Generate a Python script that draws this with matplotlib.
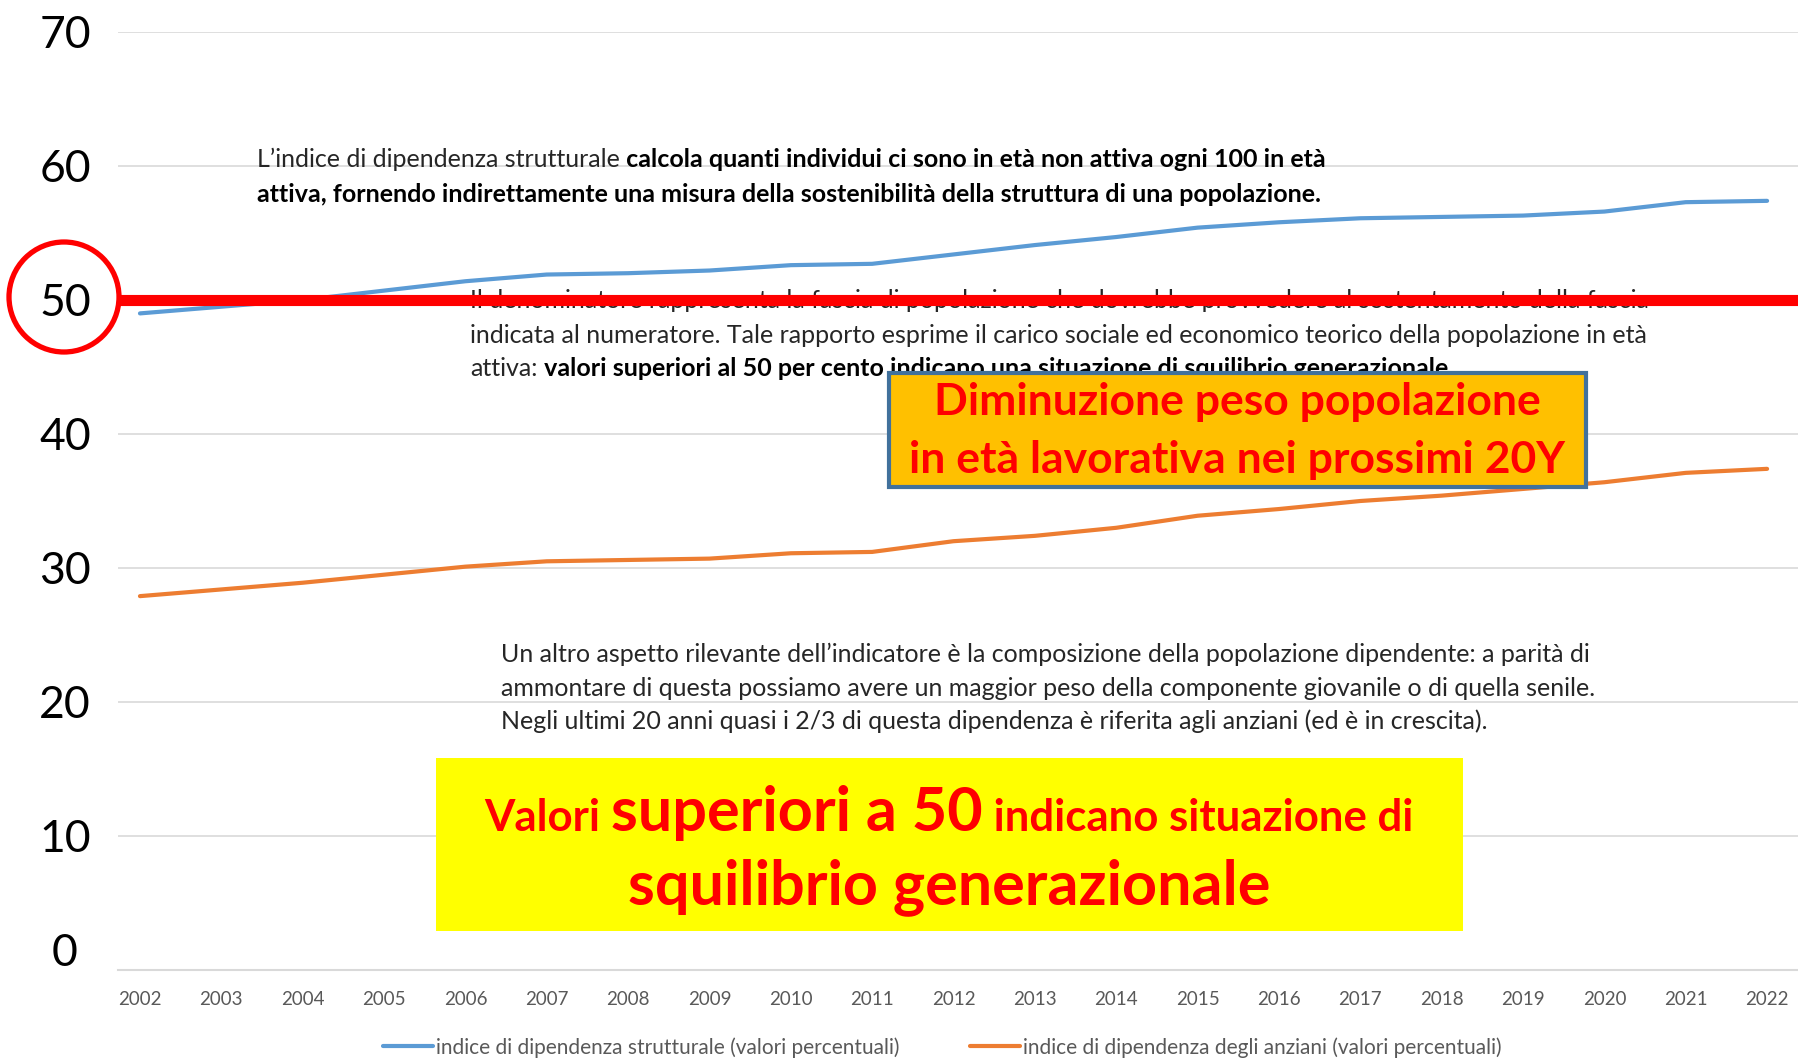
import matplotlib
matplotlib.use("Agg")
import matplotlib.pyplot as plt
from matplotlib.patches import Ellipse, Rectangle
from matplotlib.offsetbox import TextArea, HPacker, AnnotationBbox

plt.rcParams['font.family'] = ['Lato', 'DejaVu Sans']

# data
years = list(range(2002, 2023))
strutturale = [49.0, 49.5, 50.0, 50.7, 51.4, 51.9, 52.0, 52.2, 52.6, 52.7, 53.4,
               54.1, 54.7, 55.4, 55.8, 56.1, 56.2, 56.3, 56.6, 57.3, 57.4]
anziani = [27.9, 28.4, 28.9, 29.5, 30.1, 30.5, 30.6, 30.7, 31.1, 31.2, 32.0,
           32.4, 33.0, 33.9, 34.4, 35.0, 35.4, 35.9, 36.4, 37.1, 37.4]
y_ticks = [0, 10, 20, 30, 40, 50, 60, 70]
series_labels = ['indice di dipendenza strutturale (valori percentuali)',
                 'indice di dipendenza degli anziani (valori percentuali)']
threshold = 50

# note blocks: each line is a list of (text, bold)
note_top = [
    [('L’indice di dipendenza strutturale', False),
     (' calcola quanti individui ci sono in età non attiva ogni 100 in età', True)],
    [('attiva, fornendo indirettamente una misura della sostenibilità della struttura di una popolazione.', True)],
]
note_mid = [
    [('Il denominatore rappresenta la fascia di popolazione che dovrebbe provvedere al sostentamento della fascia', False)],
    [('indicata al numeratore. Tale rapporto esprime il carico sociale ed economico teorico della popolazione in età', False)],
    [('attiva:', False),
     (' valori superiori al 50 per cento indicano una situazione di squilibrio generazionale.', True)],
]
note_low = [
    [('Un altro aspetto rilevante dell’indicatore è la composizione della popolazione dipendente: a parità di', False)],
    [('ammontare di questa possiamo avere un maggior peso della componente giovanile o di quella senile.', False)],
    [('Negli ultimi 20 anni quasi i 2/3 di questa dipendenza è riferita agli anziani (ed è in crescita).', False)],
]
orange_lines = ['Diminuzione peso popolazione', 'in età lavorativa nei prossimi 20Y']
yellow_line1 = [('Valori', 'small'), (' ', 'small'), ('superiori a 50', 'big'),
                (' indicano situazione di', 'small')]
yellow_line2 = 'squilibrio generazionale'

W, H = 1798, 1059
fig = plt.figure(figsize=(W / 100, H / 100), dpi=100)
ax = fig.add_axes([118 / W, 1 - 970 / H, 1 - 118 / W, (970 - 32) / H])

ax.plot(years, strutturale, color='#5B9BD5', lw=3, zorder=2, solid_capstyle='round')
ax.plot(years, anziani, color='#ED7D31', lw=3, zorder=2, solid_capstyle='round')

ax.set_xlim(2001.73, 2022.38)
ax.set_ylim(0, 70)
ax.set_xticks(years)
ax.set_xticklabels([str(y) for y in years], fontsize=13.5, color='#595959')
ax.set_yticks(y_ticks)
# the "0" label sits a bit above its gridline in the original, drawn apart below
ax.set_yticklabels(['' if v == 0 else str(v) for v in y_ticks], fontsize=32, color='black')
for lab in ax.get_yticklabels():
    lab.set_horizontalalignment('center')
ax.annotate('0', xy=(0, 0), xycoords=('axes fraction', 'data'), xytext=(-53, 17),
            textcoords='offset pixels', ha='center', va='center', fontsize=32,
            color='black', annotation_clip=False)
ax.tick_params(axis='y', length=0, pad=38)
ax.tick_params(axis='x', length=0, pad=15)
ax.grid(axis='y', color='#D9D9D9', lw=1.2, zorder=0)
ax.set_axisbelow(True)
for s in ['top', 'right', 'left']:
    ax.spines[s].set_visible(False)
ax.spines['bottom'].set_color('#D9D9D9')
ax.spines['bottom'].set_linewidth(1.5)

# threshold line and circle round the 50 label
ax.axhline(threshold, color='red', lw=8, zorder=4)
fig.add_artist(Ellipse((64 / W, 1 - 297 / H), 110 / W, 110 / H, transform=fig.transFigure,
                       fill=False, ec='red', lw=3.8))


def put_line(parts, x, y, align=(0, 0.5), z=3):
    areas = [TextArea(t, textprops=p) for t, p in parts]
    box = HPacker(children=areas, align='baseline', pad=0, sep=0)
    ab = AnnotationBbox(box, (x / W, 1 - y / H), xycoords='figure fraction',
                        box_alignment=align, frameon=False, pad=0, zorder=z,
                        annotation_clip=False)
    ax.add_artist(ab)


def put_note(lines, x, ys, size=18):
    for line, y in zip(lines, ys):
        parts = [(t, dict(fontsize=size, fontweight='bold' if b else 'normal',
                          color='black' if b else '#262626')) for t, b in line]
        put_line(parts, x, y)


put_note(note_top, 257, [159, 194])
put_note(note_mid, 470, [300, 335, 368])
put_note(note_low, 501, [654, 688, 721])

# orange call-out
ax.add_patch(Rectangle((889 / W, 1 - 487 / H), 697 / W, 114 / H, transform=fig.transFigure,
                       fc='#FFC000', ec='#41719C', lw=3, zorder=5, clip_on=False))
for txt, y in zip(orange_lines, [402, 460]):
    put_line([(txt, dict(fontsize=32, fontweight='bold', color='#FF0000'))],
             1237, y, align=(0.5, 0.5), z=6)

# yellow call-out
ax.add_patch(Rectangle((436 / W, 1 - 931 / H), 1027 / W, 173 / H, transform=fig.transFigure,
                       fc='#FFFF00', ec='none', zorder=5, clip_on=False))
sizes = {'small': 31.5, 'big': 44}
put_line([(t, dict(fontsize=sizes[s], fontweight='bold', color='#FF0000')) for t, s in yellow_line1],
         949, 813, align=(0.5, 0.5), z=6)
put_line([(yellow_line2, dict(fontsize=44, fontweight='bold', color='#FF0000'))],
         949, 887, align=(0.5, 0.5), z=6)

handles = ax.get_lines()[:2]
fig.legend(handles, series_labels, loc='center', bbox_to_anchor=(0.524, 0.011), ncol=2,
           frameon=False, fontsize=15, labelcolor='#595959', handlelength=2.4,
           handletextpad=0.15, columnspacing=3.4)

fig.savefig('out.png', dpi=100)
